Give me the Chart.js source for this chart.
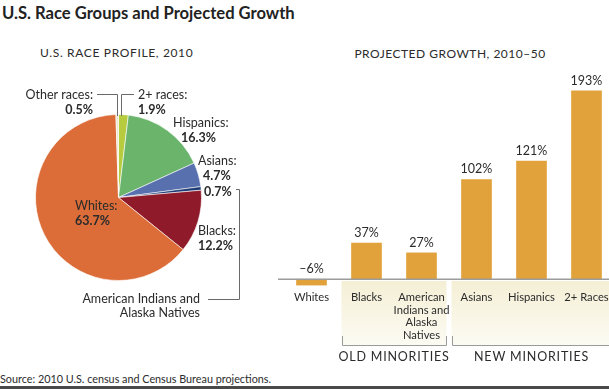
<!DOCTYPE html>
<html>
<head>
<meta charset="utf-8">
<script src="https://cdn.jsdelivr.net/npm/chart.js@4.4.1/dist/chart.umd.min.js"></script>
<style>
  body { margin: 0; width: 609px; height: 389px; overflow: hidden; position: relative; background: #fff; font-family: Lato, sans-serif; color: #2b2b2b; }
  .t { position: absolute; white-space: nowrap; line-height: 1; }
  #title { left: 2px; top: 5px; font-weight: bold; font-size: 16.6px; color: #222; }
  #pieTitle { left: 40px; top: 47px; font-size: 12px; letter-spacing: 0.65px; }
  #barTitle { left: 450px; top: 48px; font-size: 12px; letter-spacing: 0.5px; transform: translateX(-50%); }
  #source { left: 0; top: 374px; font-size: 10.8px; }
  #rule { position: absolute; left: 0; top: 386px; width: 609px; height: 3px; background: #4a4a4a; }
  canvas { position: absolute; top: 0; }
  #pie { left: 0; }
  #bars { left: 278px; }
</style>
</head>
<body>
<div class="t" id="title">U.S. Race Groups and Projected Growth</div>
<div class="t" id="pieTitle">U.S. RACE PROFILE, 2010</div>
<div class="t" id="barTitle">PROJECTED GROWTH, 2010–50</div>
<div class="t" id="source">Source: 2010 U.S. census and Census Bureau projections.</div>
<div id="rule"></div>
<canvas id="pie" width="280" height="389"></canvas>
<canvas id="bars" width="336" height="389"></canvas>
<script>
// pie data, clockwise from 12 o'clock
const pieLabels = ['2+ races', 'Hispanics', 'Asians', 'American Indians and Alaska Natives', 'Blacks', 'Whites', 'Other races'];
const pieValues = [1.9, 16.3, 4.7, 0.7, 12.2, 63.7, 0.5];
const pieColors = ['#B7CB3F', '#6BB46C', '#5870AD', '#1F3C77', '#8E1A2A', '#DC6D39', '#EAE6D2'];

// bar data
const barCategories = ['Whites', 'Blacks', ['American', 'Indians and', 'Alaska', 'Natives'], 'Asians', 'Hispanics', '2+ Races'];
const barValues = [-6, 37, 27, 102, 121, 193];
const groupNames = ['OLD MINORITIES', 'NEW MINORITIES'];
const groupFirst = [1, 3];
const groupLast = [2, 5];

const textColor = '#2b2b2b';

function line(ctx, pts) {
  ctx.beginPath();
  ctx.moveTo(pts[0][0], pts[0][1]);
  for (let i = 1; i < pts.length; i++) ctx.lineTo(pts[i][0], pts[i][1]);
  ctx.stroke();
}

// pie annotation layout (label position, alignment, leader line)
const pieLabelLayout = [
  { x: 138, y: 95, align: 'left', lead: [[134, 94.5], [121.5, 94.5], [121.5, 116]] },
  { x: 173, y: 123, vx: 181, align: 'left' },
  { x: 198, y: 161, vx: 203, align: 'left' },
  { x: 204, y: 192, align: 'left', hideName: true, lead: [[236, 189.5], [239.5, 189.5], [239.5, 299.5], [208, 299.5]] },
  { x: 198, y: 231, align: 'left' },
  { x: 75, y: 206, align: 'left' },
  { x: 93, y: 95, align: 'right', lead: [[97, 94.5], [117.5, 94.5], [117.5, 116]] }
];

const pieLabelPlugin = {
  id: 'pieLabels',
  afterDraw(chart) {
    const ctx = chart.ctx;
    ctx.save();
    ctx.fillStyle = textColor;
    ctx.strokeStyle = '#6a6a6a';
    ctx.lineWidth = 1;
    ctx.textBaseline = 'middle';
    pieLabelLayout.forEach((l, i) => {
      ctx.textAlign = l.align;
      if (l.hideName) {
        ctx.font = 'bold 12.5px Lato';
        ctx.fillText(pieValues[i].toFixed(1) + '%', l.x, l.y);
        ctx.font = '12.5px Lato';
        ctx.textAlign = 'right';
        const words = pieLabels[i].split(' ');
        ctx.fillText(words.slice(0, 3).join(' '), 200, 299);
        ctx.fillText(words.slice(3).join(' '), 200, 313);
      } else {
        ctx.font = '12.5px Lato';
        ctx.fillText(pieLabels[i] + ':', l.x, l.y);
        ctx.font = 'bold 12.5px Lato';
        ctx.fillText(pieValues[i].toFixed(1) + '%', l.vx || l.x, l.y + 14.5);
      }
      if (l.lead) line(ctx, l.lead);
    });
    ctx.restore();
  }
};

new Chart(document.getElementById('pie'), {
  type: 'pie',
  data: {
    labels: pieLabels,
    datasets: [{
      data: pieValues,
      backgroundColor: pieColors,
      borderColor: 'rgba(255,255,255,0.6)',
      borderWidth: 1
    }]
  },
  options: {
    responsive: false,
    animation: false,
    layout: { padding: { left: 35, top: 114, right: 78, bottom: 108 } },
    plugins: { legend: { display: false }, tooltip: { enabled: false } }
  },
  plugins: [pieLabelPlugin]
});

const barPlugin = {
  id: 'barExtras',
  beforeDraw(chart) {
    const ctx = chart.ctx;
    const x = chart.scales.x;
    const half = 25;
    ctx.save();
    groupNames.forEach((name, g) => {
      const left = x.getPixelForValue(groupFirst[g]) - half;
      const right = x.getPixelForValue(groupLast[g]) + half;
      const grad = ctx.createLinearGradient(0, 281, 0, 345);
      grad.addColorStop(0, '#F4EFD5');
      grad.addColorStop(1, '#FCFBF3');
      ctx.fillStyle = grad;
      ctx.fillRect(left, 281, right - left, 64);
      ctx.strokeStyle = '#9a9a9a';
      ctx.lineWidth = 1;
      line(ctx, [[Math.round(left) + 0.5, 336], [Math.round(left) + 0.5, 345.5], [Math.round(right) - 0.5, 345.5], [Math.round(right) - 0.5, 336]]);
      ctx.fillStyle = textColor;
      ctx.font = '12.5px Lato';
      ctx.letterSpacing = '0.8px';
      ctx.textAlign = 'center';
      ctx.textBaseline = 'middle';
      ctx.fillText(name, (left + right) / 2, 357);
      ctx.letterSpacing = '0px';
    });
    ctx.restore();
  },
  afterDatasetsDraw(chart) {
    const ctx = chart.ctx;
    const zero = chart.scales.y.getPixelForValue(0);
    ctx.save();
    ctx.strokeStyle = '#9c9c9c';
    ctx.lineWidth = 1.5;
    line(ctx, [[0, zero], [chart.width, zero]]);
    ctx.fillStyle = textColor;
    ctx.font = '12.5px Lato';
    ctx.textAlign = 'center';
    ctx.textBaseline = 'bottom';
    chart.getDatasetMeta(0).data.forEach((bar, i) => {
      const v = barValues[i];
      const txt = (v < 0 ? '–' + Math.abs(v) : v) + '%';
      ctx.fillText(txt, bar.x, Math.min(bar.y, zero) - 4);
    });
    ctx.restore();
  }
};

new Chart(document.getElementById('bars'), {
  type: 'bar',
  data: {
    labels: barCategories,
    datasets: [{
      data: barValues,
      backgroundColor: '#E1A23B',
      barThickness: 30
    }]
  },
  options: {
    responsive: false,
    animation: false,
    layout: { padding: { left: 6, right: 0, top: 84, bottom: 0 } },
    plugins: { legend: { display: false }, tooltip: { enabled: false } },
    scales: {
      x: {
        grid: { display: false, drawTicks: false },
        border: { display: false },
        ticks: {
          color: textColor,
          font: { family: 'Lato', size: 11.2, lineHeight: 1.13 },
          padding: 2,
          maxRotation: 0,
          autoSkip: false
        },
        afterFit(scale) { scale.height = 100; }
      },
      y: { display: false, min: -10, max: 200 }
    }
  },
  plugins: [barPlugin]
});
</script>
</body>
</html>
